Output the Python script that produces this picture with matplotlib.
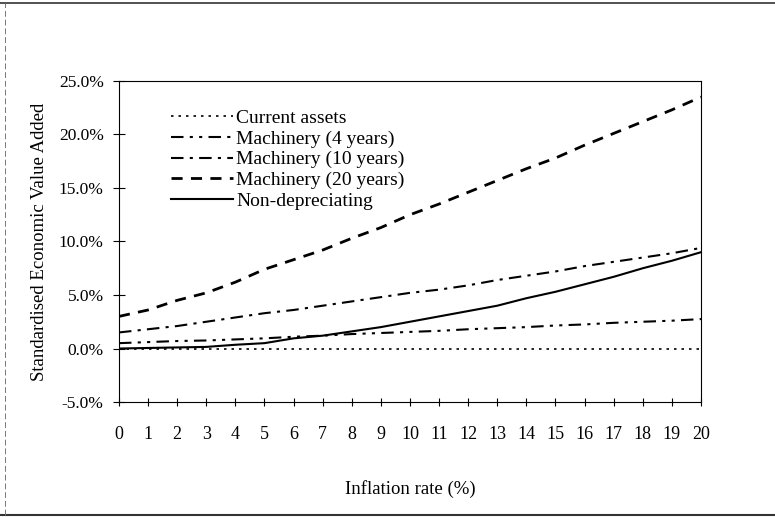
import matplotlib
matplotlib.use("Agg")
import matplotlib.pyplot as plt
from matplotlib.lines import Line2D
from matplotlib.ticker import FuncFormatter

inflation = list(range(0, 21))
current_assets = [0.0] * 21
mach_4 = [0.5, 0.6, 0.7, 0.75, 0.85, 0.95, 1.1, 1.2, 1.35, 1.45, 1.55,
          1.65, 1.8, 1.9, 2.0, 2.15, 2.25, 2.4, 2.5, 2.6, 2.75]
mach_10 = [1.5, 1.8, 2.1, 2.5, 2.9, 3.3, 3.6, 4.0, 4.4, 4.8, 5.2,
           5.5, 5.9, 6.4, 6.8, 7.2, 7.7, 8.1, 8.5, 8.9, 9.4]
mach_20 = [3.0, 3.6, 4.5, 5.2, 6.2, 7.4, 8.3, 9.2, 10.3, 11.3, 12.5,
           13.5, 14.6, 15.7, 16.8, 17.8, 19.0, 20.1, 21.2, 22.3, 23.5]
non_dep = [0.0, 0.05, 0.1, 0.15, 0.35, 0.5, 0.95, 1.2, 1.6, 2.0, 2.5,
           3.0, 3.5, 4.0, 4.7, 5.3, 6.0, 6.7, 7.5, 8.2, 9.0]
labels = ["Current assets", "Machinery (4 years)", "Machinery (10 years)",
          "Machinery (20 years)", "Non-depreciating"]

plt.rcParams['font.family'] = ['Liberation Serif', 'DejaVu Serif']

fig = plt.figure(figsize=(7.75, 5.17), dpi=100)
ax = fig.add_axes([0.1535, 0.2224, 0.751, 0.621])

ax.plot(inflation, current_assets, color='black', lw=1.2, linestyle=(0, (1.5, 3)), label=labels[0])
ax.plot(inflation, mach_4, color='black', lw=1.5, linestyle=(0, (6, 3, 1.5, 3, 1.5, 3)), label=labels[1])
ax.plot(inflation, mach_10, color='black', lw=1.5, linestyle=(0, (6, 3, 1.5, 3)), label=labels[2])
ax.plot(inflation, mach_20, color='black', lw=2.0, linestyle=(0, (4, 3)), label=labels[3])
ax.plot(inflation, non_dep, color='black', lw=1.5, linestyle='-', label=labels[4])

ax.set_xlim(0, 20)
ax.set_ylim(-5, 25)
ax.set_xticks(inflation)
ax.set_yticks([-5, 0, 5, 10, 15, 20, 25])
ax.yaxis.set_major_formatter(FuncFormatter(lambda v, p: f"{v:.1f}%"))
ax.tick_params(axis='y', direction='inout', length=8, labelsize=12.5, pad=7)
ax.tick_params(axis='x', direction='inout', length=6, labelsize=13, pad=14)
for s in ax.spines.values():
    s.set_linewidth(0.8)

ax.set_ylabel("Standardised Economic Value Added", fontsize=13.5, labelpad=8)
ax.set_xlabel("Inflation rate (%)", fontsize=13.5, labelpad=27)

leg = ax.legend(loc='upper left', bbox_to_anchor=(0.076, 0.935), frameon=False,
                fontsize=14, handlelength=3.2, handletextpad=0.15,
                labelspacing=0.15, borderaxespad=0)

# outer frame of the figure
fig.add_artist(Line2D([0.0, 1.0], [0.994, 0.994], transform=fig.transFigure, color='#333333', lw=1.2))
fig.add_artist(Line2D([0.0, 1.0], [0.003, 0.003], transform=fig.transFigure, color='#333333', lw=1.5))
fig.add_artist(Line2D([0.007, 0.007], [0.003, 0.994], transform=fig.transFigure, color='#777777', lw=0.7, linestyle=(0, (6, 3))))

fig.savefig("out.png", dpi=100)
